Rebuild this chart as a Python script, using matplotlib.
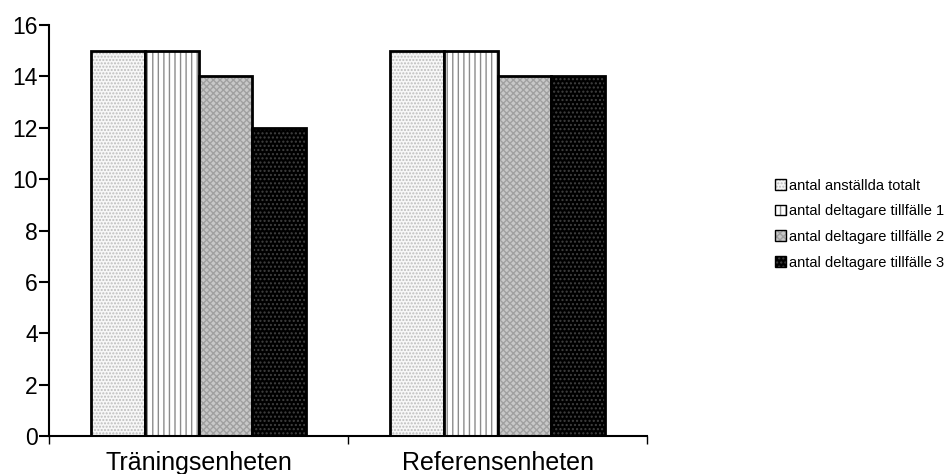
import numpy as np
import matplotlib.pyplot as plt

plt.rcParams['font.family'] = ['Liberation Sans', 'DejaVu Sans']

enheter = ['Träningsenheten', 'Referensenheten']
serier = ['antal anställda totalt', 'antal deltagare tillfälle 1',
          'antal deltagare tillfälle 2', 'antal deltagare tillfälle 3']
varden = [[15, 15], [15, 15], [14, 14], [12, 14]]

fyll = ['#f7f7f7', '#ffffff', '#c8c8c8', '#000000']
monster = ['.....', '|||', 'xxxxx', '....']
monsterfarg = ['#bdbdbd', '#8c8c8c', '#a0a0a0', '#404040']

fig = plt.figure(figsize=(9.46, 4.74), dpi=100)
ax = fig.add_axes([49 / 946, 38 / 474, 598 / 946, 411 / 474])

x = np.arange(len(enheter))
bredd = 0.18
for i, namn in enumerate(serier):
    pos = x - 1.5 * bredd + i * bredd
    ax.bar(pos, varden[i], bredd, color=fyll[i], hatch=monster[i],
           edgecolor=monsterfarg[i], linewidth=0)
    ax.bar(pos, varden[i], bredd, fill=False, edgecolor='black', linewidth=2)

ax.set_xlim(-0.5, 1.5)
ax.set_ylim(0, 16)
ax.set_yticks(range(0, 17, 2))
ax.set_xticks([-0.5, 0.5, 1.5])
ax.set_xticklabels([])
ax.set_xticks(x, minor=True)
ax.set_xticklabels(enheter, minor=True, fontsize=18)
ax.tick_params(axis='x', which='minor', length=0, pad=11)
ax.tick_params(axis='x', which='major', direction='out', length=6, width=1)
ax.tick_params(axis='y', direction='out', length=7, width=1.5, labelsize=16.5, pad=1)
for s in ['top', 'right']:
    ax.spines[s].set_visible(False)
ax.spines['left'].set_linewidth(1.5)
ax.spines['bottom'].set_linewidth(1.5)

# legend: hatched fill + black outline on top of each other
handles = []
for i in range(4):
    f = plt.Rectangle((0, 0), 1, 1, facecolor=fyll[i], hatch=monster[i],
                      edgecolor=monsterfarg[i], linewidth=0)
    o = plt.Rectangle((0, 0), 1, 1, fill=False, edgecolor='black', linewidth=1)
    handles.append((f, o))
fig.legend(handles, serier, loc='center left', bbox_to_anchor=(762 / 946, 250 / 474),
           frameon=False, fontsize=10.5, handlelength=0.75, handleheight=0.75,
           handletextpad=0.2, labelspacing=0.8)

plt.savefig('out.png', dpi=100)
